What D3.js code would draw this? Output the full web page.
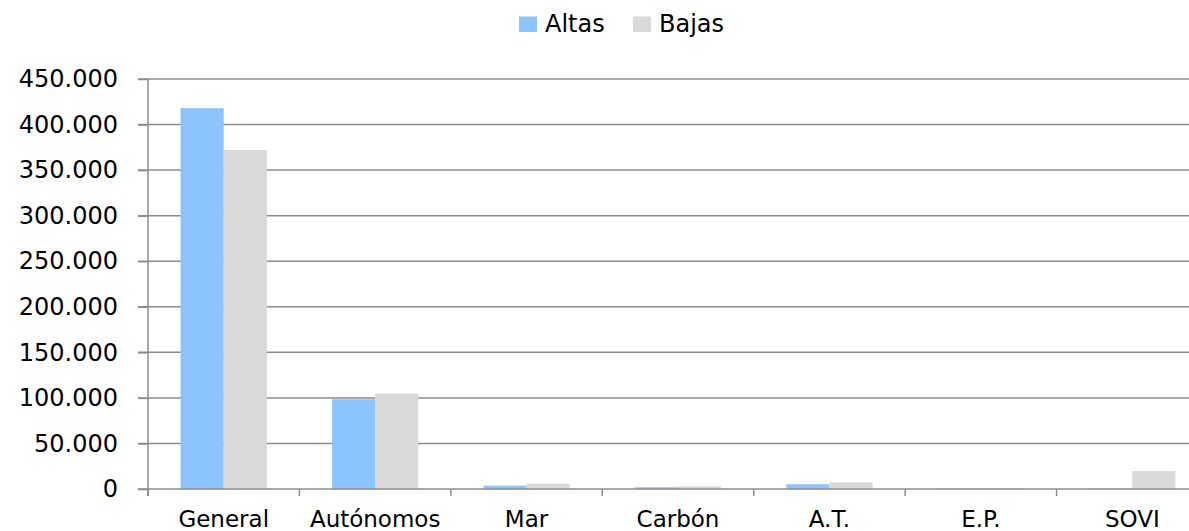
<!DOCTYPE html>
<html>
<head>
<meta charset="utf-8">
<script src="https://cdn.jsdelivr.net/npm/d3@7"></script>
<style>
  html, body { margin: 0; padding: 0; background: #fff; }
  svg { display: block; font-family: "DejaVu Sans", Verdana, sans-serif; }
</style>
</head>
<body>
<svg id="chart" width="1189" height="531"></svg>
<script>
const categories = ["General", "Autónomos", "Mar", "Carbón", "A.T.", "E.P.", "SOVI"];
const altas = [418000, 98500, 3700, 1900, 5200, 300, 300];
const bajas = [372000, 104600, 5900, 2900, 7400, 1000, 19600];
const seriesNames = ["Altas", "Bajas"];
const seriesColors = ["#8CC4FF", "#D9D9D9"];
const yTicks = [0, 50000, 100000, 150000, 200000, 250000, 300000, 350000, 400000, 450000];

const svg = d3.select("#chart");
const mLeft = 148, mRight = 1208, mTop = 79, mBottom = 489;

const x = d3.scaleBand().domain(categories).range([mLeft, mRight]).paddingInner(0.43).paddingOuter(0.215);
const xs = d3.scaleBand().domain(seriesNames).range([0, x.bandwidth()]);
const y = d3.scaleLinear().domain([0, 450000]).range([mBottom, mTop]);

const fmt = v => d3.format(",")(v).replace(/,/g, ".");

// gridlines
svg.append("g").selectAll("line").data(yTicks.filter(d => d > 0)).join("line")
  .attr("x1", 138).attr("x2", 1189)
  .attr("y1", d => y(d)).attr("y2", d => y(d))
  .attr("stroke", "#8c8c8c").attr("stroke-width", 1.5);

// bars
const data = categories.map((c, i) => ({c, vals: [altas[i], bajas[i]]}));
const g = svg.append("g");
data.forEach(d => {
  g.selectAll(null).data(d.vals.map((v, j) => ({v, s: seriesNames[j], col: seriesColors[j]}))).join("rect")
    .attr("x", e => x(d.c) + xs(e.s))
    .attr("width", xs.bandwidth())
    .attr("y", e => y(e.v))
    .attr("height", e => y(0) - y(e.v))
    .attr("fill", e => e.col);
});

// y axis
const yAxis = d3.axisLeft(y).tickValues(yTicks).tickSize(10).tickPadding(20).tickFormat(fmt);
const ya = svg.append("g").attr("transform", `translate(${mLeft},0)`).call(yAxis);
ya.select(".domain").attr("stroke", "#8c8c8c").attr("stroke-width", 1.5).attr("d", `M0,${mTop}V${mBottom + 7}`);
ya.selectAll(".tick line").attr("stroke", "#8c8c8c").attr("stroke-width", 1.5);
ya.selectAll(".tick text").attr("font-size", 24).attr("fill", "#000").attr("font-family", "DejaVu Sans");

// x axis
const xAxis = d3.axisBottom(x).tickSize(0).tickPadding(0);
const xa = svg.append("g").attr("transform", `translate(0,${mBottom})`).call(xAxis);
xa.select(".domain").attr("stroke", "#8c8c8c").attr("stroke-width", 1.5).attr("d", `M${mLeft - 10},0H1189`);
xa.selectAll(".tick text").attr("font-size", 23).attr("fill", "#000").attr("font-family", "DejaVu Sans")
  .attr("y", 37.5).attr("dy", 0);
// category boundary ticks
const bounds = categories.map(c => x(c) - x.step() * x.paddingInner() / 2);
bounds[0] = mLeft;
bounds.push(mRight);
xa.append("g").selectAll("line").data(bounds).join("line")
  .attr("x1", d => d).attr("x2", d => d).attr("y1", 0).attr("y2", 7)
  .attr("stroke", "#8c8c8c").attr("stroke-width", 1.5);

// legend
const leg = svg.append("g");
const legX = [519, 633];
seriesNames.forEach((s, i) => {
  leg.append("rect").attr("x", legX[i]).attr("y", 16.5).attr("width", 18).attr("height", 15.5).attr("fill", seriesColors[i]);
  leg.append("text").attr("x", legX[i] + 26).attr("y", 32).attr("font-size", 24)
    .attr("font-family", "DejaVu Sans").attr("fill", "#000").text(s);
});
</script>
</body>
</html>
